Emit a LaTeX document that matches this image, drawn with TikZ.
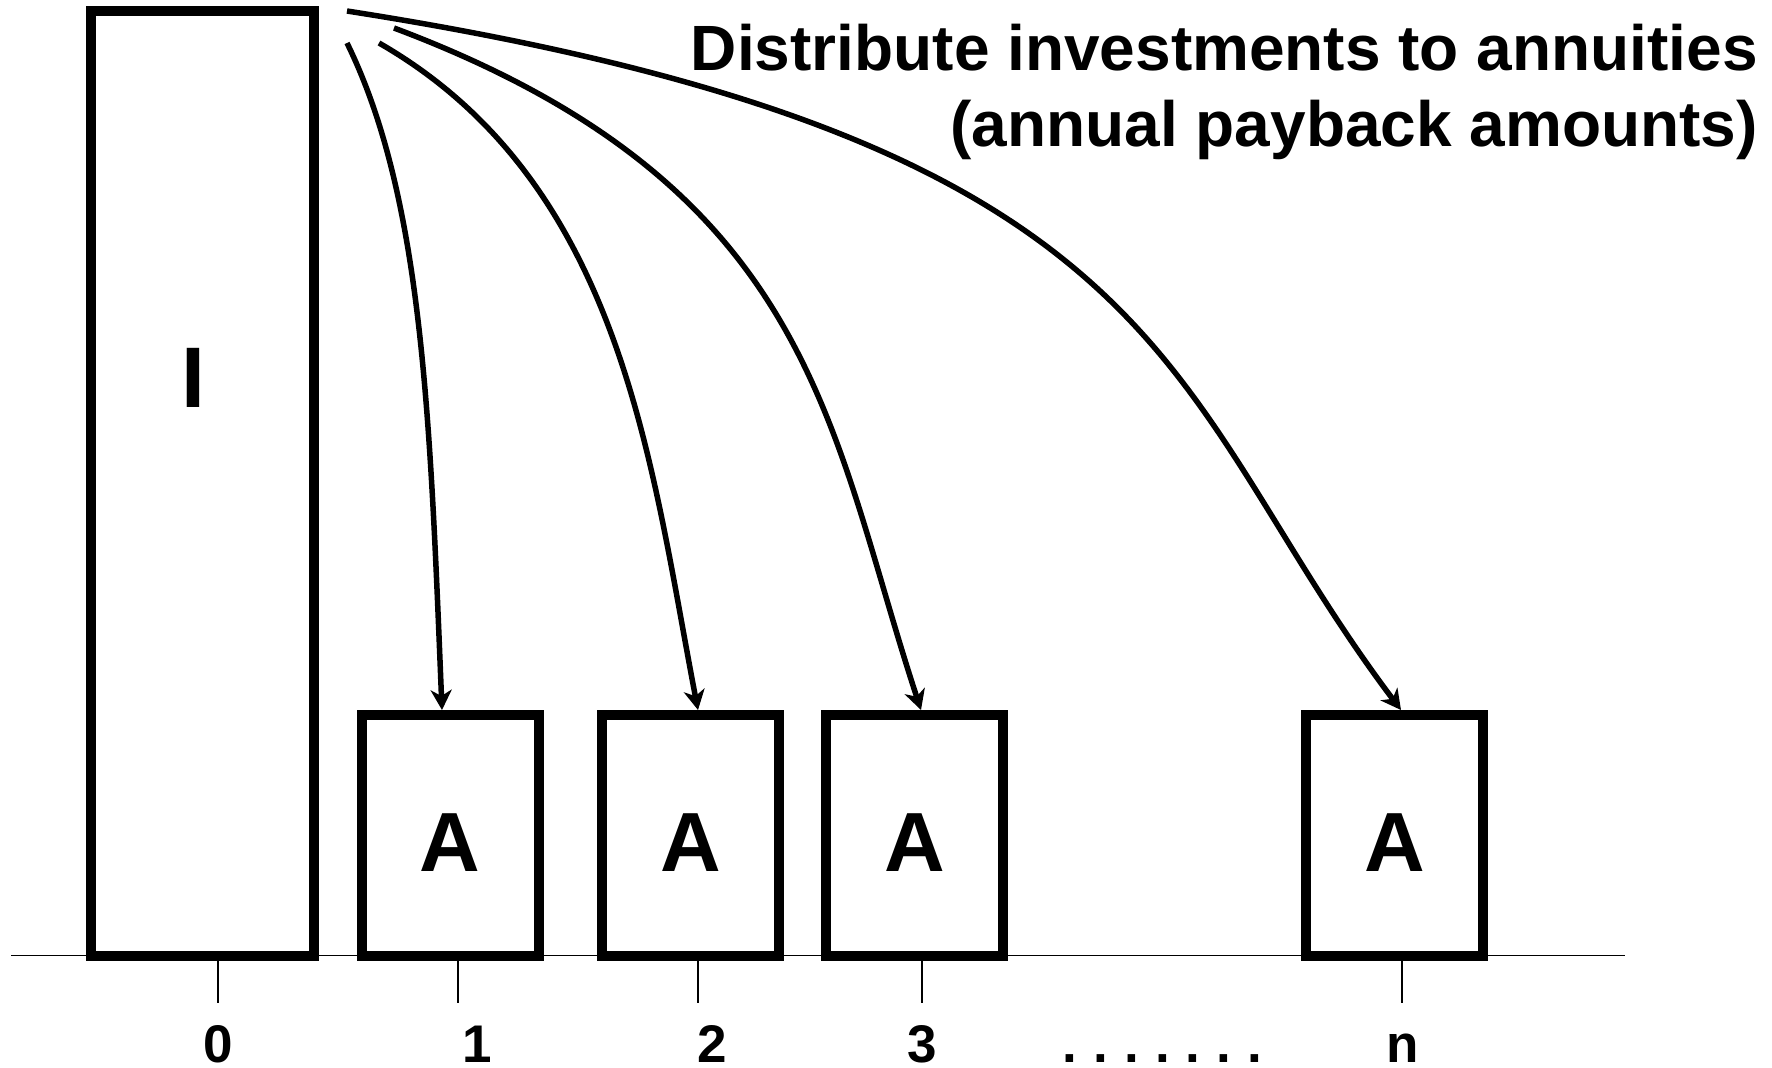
\documentclass[tikz,border=0pt]{standalone}
\usepackage{fontspec}
\setmainfont{Liberation Sans}
\usetikzlibrary{arrows.meta,calc}
\begin{document}
\begin{tikzpicture}[x=1pt,y=-1pt,
  box/.style={draw,line width=10pt,inner sep=0pt},
  abox/.style={box,minimum width=177pt,minimum height=240.5pt,
    font=\fontsize{84}{84}\selectfont\bfseries,text height=71.5pt,text depth=0pt},
  arr/.style={line width=5.5pt,-{Stealth[length=20pt,width=21pt,inset=6pt]}},
  axisline/.style={line width=1.5pt},
  lab/.style={font=\fontsize{53}{53}\selectfont\bfseries,anchor=base,inner sep=0pt},
  ttl/.style={font=\fontsize{64}{64}\selectfont\bfseries,anchor=base east,inner sep=0pt}]
\useasboundingbox (0,0) rectangle (1772,1068);

% axis and ticks
\coordinate (axL) at (11,955.5);
\coordinate (axR) at (1625,955.5);
\draw[axisline] (axL) -- (axR);
\foreach \n/\x in {0/218,1/458,2/698,3/922,n/1402}{
  \coordinate (tk\n a) at (\x,955.5);
  \coordinate (tk\n b) at (\x,1003);
  \draw[axisline] (tk\n a) -- (tk\n b);
}

% investment box
\node[box,minimum width=223.5pt,minimum height=944.5pt] (I) at (202.25,483.25) {};
\node[font=\fontsize{86}{86}\selectfont\bfseries,anchor=base,inner sep=0pt] (Ilab) at (193.4,407.7) {I};

% annuity boxes
\node[abox] (b1) at (450,835.25) {A};
\node[abox] (b2) at (690.5,835.25) {A};
\node[abox] (b3) at (914.5,835.25) {A};
\node[abox] (bn) at (1394.5,835.25) {A};

% curved arrows
\coordinate (s1) at (347,43);
\coordinate (s2) at (379,43);
\coordinate (s3) at (394,28);
\coordinate (s4) at (347,11);
\draw[arr] (s1) .. controls (422,196) and (430,412) .. ($(b1.north)+(-8,0)$);
\draw[arr] (s2) .. controls (623,183) and (651,466) .. ($(b2.north)+(7.5,0)$);
\draw[arr] (s3) .. controls (815,186) and (828,427) .. ($(b3.north)+(6.5,0)$);
\draw[arr] (s4) .. controls (1187,142) and (1161,392) .. ($(bn.north)+(6.5,0)$);

% title
\node[ttl] (t1) at (1758,70) {Distribute investments to annuities};
\node[ttl] (t2) at (1758,146) {(annual payback amounts)};

% axis labels
\node[lab] (l0) at (218,1062) {0};
\node[lab] (l1) at (477,1062) {1};
\node[lab] (l2) at (712.5,1062) {2};
\node[lab] (l3) at (922,1062) {3};
\node[lab] (ldots) at (1162.5,1062) {.\hspace{16pt}.\hspace{16pt}.\hspace{16pt}.\hspace{16pt}.\hspace{16pt}.\hspace{16pt}.};
\node[lab] (ln) at (1403,1062) {n};
\end{tikzpicture}
\end{document}
